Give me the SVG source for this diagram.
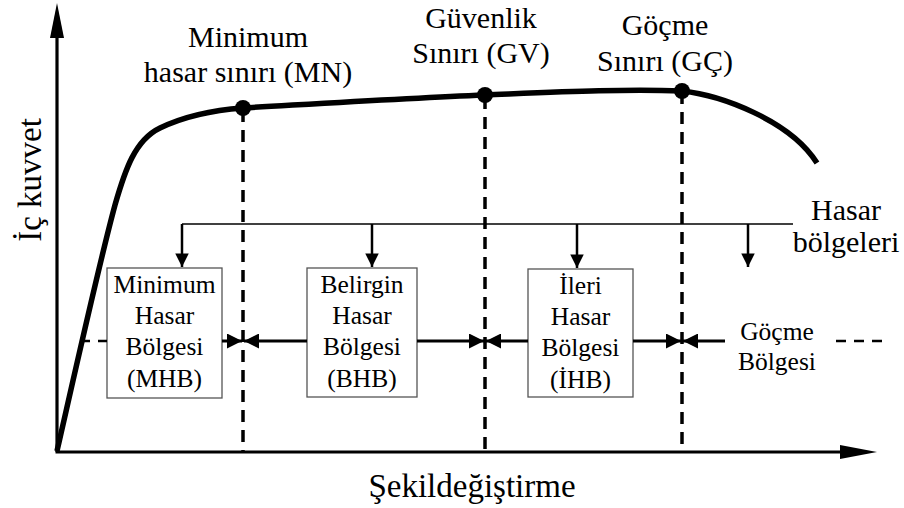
<svg xmlns="http://www.w3.org/2000/svg" width="904" height="508" viewBox="0 0 904 508">
<defs>
<style>
text{font-family:'Liberation Serif','Times New Roman',serif;fill:#000;text-anchor:middle}
.big{font-size:30px}
.ax{font-size:33px}
.bx{font-size:25.5px}
.box{fill:#fff;stroke:#555;stroke-width:1.3}
.dash{stroke:#000;stroke-width:3.5;stroke-dasharray:12 8;fill:none}
.arr{stroke:#000;stroke-width:3;fill:none}
.thin{stroke:#000;stroke-width:1.3;fill:none}
</style>
<marker id="ah" viewBox="0 0 10 10" refX="10" refY="5" markerWidth="6.5" markerHeight="5" markerUnits="strokeWidth" orient="auto">
<path d="M0,0 L10,5 L0,10 z" fill="#000"/>
</marker>
<marker id="ad" viewBox="0 0 10 10" refX="10" refY="5" markerWidth="8" markerHeight="5.4" markerUnits="strokeWidth" orient="auto">
<path d="M0,0 L10,5 L0,10 z" fill="#000"/>
</marker>
</defs>
<g id="axes">
<line x1="57" y1="452" x2="57" y2="36" stroke="#000" stroke-width="3.2"/>
<path d="M57,3 L64,38 L50,38 z" fill="#000"/>
<line x1="55.5" y1="452" x2="842" y2="452" stroke="#000" stroke-width="3.2"/>
<path d="M877,452 L840,445 L840,459 z" fill="#000"/>
<text class="ax" transform="translate(41,180) rotate(-90)">İç kuvvet</text>
<text class="ax" x="472" y="497">Şekildeğiştirme</text>
</g>
<g id="curve">
<path d="M57,451 C80,350 100,260 115,205 C125,170 135,140 160,128 C185,116 215,110 243,108 C330,103 410,98 485,95 C560,92 620,89 682,91 C720,95 790,120 817,163" fill="none" stroke="#000" stroke-width="5.5" stroke-linecap="butt"/>
</g>
<g id="limits">
<line class="dash" x1="243" y1="110" x2="243" y2="452"/>
<line class="dash" x1="485" y1="97" x2="485" y2="452"/>
<line class="dash" x1="682" y1="92" x2="682" y2="448"/>
<circle cx="243" cy="108" r="8" fill="#000"/>
<circle cx="485" cy="95" r="8" fill="#000"/>
<circle cx="682" cy="91" r="8" fill="#000"/>
</g>
<g id="MN">
<text class="big" x="248" y="47">Minimum</text>
<text class="big" x="248" y="82">hasar sınırı (MN)</text>
</g>
<g id="GV">
<text class="big" x="481" y="28">Güvenlik</text>
<text class="big" x="481" y="63">Sınırı (GV)</text>
</g>
<g id="GC">
<text class="big" x="665" y="35">Göçme</text>
<text class="big" x="665" y="71">Sınırı (GÇ)</text>
</g>
<g id="hasar-bolgeleri">
<text class="big" x="846" y="220">Hasar</text>
<text class="big" x="846" y="252">bölgeleri</text>
</g>
<g id="MHB">
<rect class="box" x="107" y="268" width="115" height="130"/>
<text class="bx" x="164.5" y="293">Minimum</text>
<text class="bx" x="164.5" y="324">Hasar</text>
<text class="bx" x="164.5" y="355">Bölgesi</text>
<text class="bx" x="164.5" y="387">(MHB)</text>
</g>
<g id="BHB">
<rect class="box" x="307" y="268" width="110" height="129"/>
<text class="bx" x="362" y="293">Belirgin</text>
<text class="bx" x="362" y="324">Hasar</text>
<text class="bx" x="362" y="355">Bölgesi</text>
<text class="bx" x="362" y="387">(BHB)</text>
</g>
<g id="IHB">
<rect class="box" x="528" y="269" width="105" height="128"/>
<text class="bx" x="580.5" y="294">İleri</text>
<text class="bx" x="580.5" y="325">Hasar</text>
<text class="bx" x="580.5" y="356">Bölgesi</text>
<text class="bx" x="580.5" y="388">(İHB)</text>
</g>
<g id="GB">
<text class="bx" x="777" y="340">Göçme</text>
<text class="bx" x="777" y="370">Bölgesi</text>
</g>
<g id="connectors">
<polyline class="thin" points="182,224 793,224"/>
<line x1="182" y1="224" x2="182" y2="267" stroke="#000" stroke-width="2.5" marker-end="url(#ad)"/>
<line x1="372" y1="224" x2="372" y2="267" stroke="#000" stroke-width="2.5" marker-end="url(#ad)"/>
<line x1="577" y1="224" x2="577" y2="268" stroke="#000" stroke-width="2.5" marker-end="url(#ad)"/>
<line x1="748" y1="224" x2="748" y2="267" stroke="#000" stroke-width="2.5" marker-end="url(#ad)"/>
<line class="dash" x1="80" y1="341" x2="107" y2="341" style="stroke-width:2.5;stroke-dasharray:10 8"/>
<line class="dash" x1="836" y1="341" x2="882" y2="341" style="stroke-width:2.5;stroke-dasharray:10 8"/>
<line class="arr" x1="222" y1="341" x2="242" y2="341" marker-end="url(#ah)"/>
<line class="arr" x1="307" y1="341" x2="244" y2="341" marker-end="url(#ah)"/>
<line class="arr" x1="417" y1="341" x2="484" y2="341" marker-end="url(#ah)"/>
<line class="arr" x1="528" y1="341" x2="486" y2="341" marker-end="url(#ah)"/>
<line class="arr" x1="633" y1="341" x2="681" y2="341" marker-end="url(#ah)"/>
<line class="arr" x1="725" y1="341" x2="683" y2="341" marker-end="url(#ah)"/>
</g>
</svg>
